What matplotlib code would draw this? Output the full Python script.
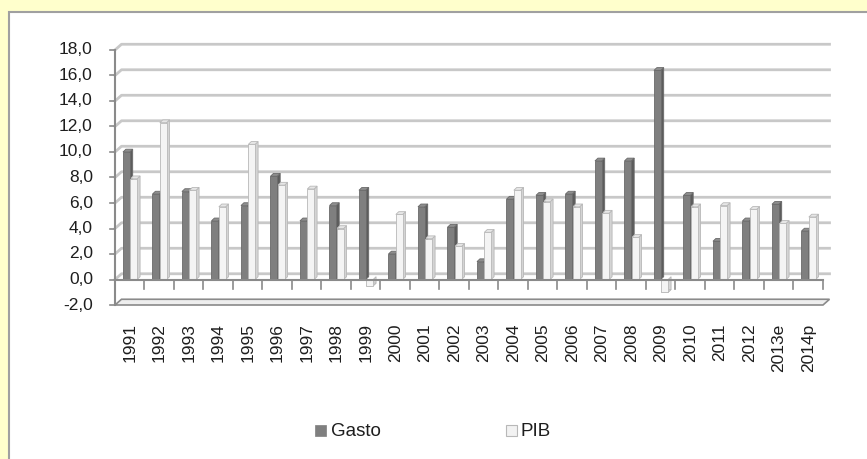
import numpy as np
import matplotlib.pyplot as plt
from matplotlib.patches import Rectangle, Polygon

# dados (variação anual, %)
anos = ['1991', '1992', '1993', '1994', '1995', '1996', '1997', '1998', '1999', '2000',
        '2001', '2002', '2003', '2004', '2005', '2006', '2007', '2008', '2009', '2010',
        '2011', '2012', '2013e', '2014p']
gasto = [10.0, 6.7, 6.9, 4.6, 5.8, 8.1, 4.6, 5.8, 7.0, 2.0,
         5.7, 4.1, 1.4, 6.3, 6.6, 6.7, 9.3, 9.3, 16.4, 6.6,
         3.0, 4.6, 5.9, 3.8]
pib = [7.9, 12.3, 7.0, 5.7, 10.6, 7.4, 7.1, 4.0, -0.5, 5.1,
       3.2, 2.6, 3.7, 7.0, 6.1, 5.7, 5.2, 3.3, -1.0, 5.7,
       5.8, 5.5, 4.4, 4.9]
yticks = np.arange(-2, 19, 2)

W, H = 867, 459
fig = plt.figure(figsize=(W / 100, H / 100), dpi=100)
fig.patch.set_facecolor('#FFFFCC')
fig.patches.append(Rectangle((9 / W, -0.1), 1.1, (H - 12) / H + 0.1, transform=fig.transFigure,
                             facecolor='white', edgecolor='#A0A0A0', lw=1.5, zorder=-5))

ax = fig.add_axes([115 / W, 154 / H, 708 / W, 255 / H])
ax.set_xlim(0, len(anos))
ax.set_ylim(-2, 18)
ax.axis('off')

n = len(anos)
dx, dy = 0.22, 0.45      # profundidade da parede
grid_c = '#C8C8C8'
axis_c = '#8A8A8A'
fs = 12.5
txt_c = '#1E1E1E'

# parede de fundo: linhas de grade
for v in yticks:
    if v < 0:
        continue
    ax.plot([0, dx, n + dx], [v, v + dy, v + dy], color=grid_c, lw=2, clip_on=False, zorder=1)

# piso em -2
floor = Polygon([[0, -2], [dx, -2 + dy], [n + dx, -2 + dy], [n, -2]], closed=True,
                facecolor='#EEEEEE', edgecolor=axis_c, lw=1.2, clip_on=False, zorder=1)
ax.add_patch(floor)

# eixo vertical e marcas
ax.plot([0, 0], [-2, 18], color=axis_c, lw=1.5, clip_on=False, zorder=2)
for v in yticks:
    ax.plot([-0.17, 0], [v, v], color=axis_c, lw=1.2, clip_on=False, zorder=2)
    ax.text(-0.75, v, f'{v:.1f}'.replace('.', ','), ha='right', va='center',
            fontsize=fs, family='Liberation Sans', color=txt_c)

# barras com efeito 3D
bw = 0.23
sx, sy = 0.1, 0.22


def bar3d(x0, val, front, side, top, edge):
    x1 = x0 + bw
    ax.add_patch(Polygon([[x1, 0], [x1 + sx, sy], [x1 + sx, val + sy], [x1, val]],
                         facecolor=side, edgecolor=edge, lw=0.6, zorder=3))
    ax.add_patch(Polygon([[x0, val], [x0 + sx, val + sy], [x1 + sx, val + sy], [x1, val]],
                         facecolor=top, edgecolor=edge, lw=0.6, zorder=3))
    ax.add_patch(Rectangle((x0, 0), bw, val, facecolor=front, edgecolor=edge, lw=0.6, zorder=4))


for i in range(n):
    bar3d(i + 0.27, gasto[i], '#7F7F7F', '#5C5C5C', '#8E8E8E', '#6A6A6A')
    bar3d(i + 0.52, pib[i], '#F4F4F4', '#D4D4D4', '#E6E6E6', '#B8B8B8')

# eixo de categorias em zero
ax.plot([0, n], [0, 0], color=axis_c, lw=1.5, clip_on=False, zorder=5)
for i in range(1, n + 1):
    ax.plot([i, i], [0, -0.75], color=axis_c, lw=1.2, clip_on=False, zorder=5)

for i, a in enumerate(anos):
    ax.text(i + 0.5, -3.45, a, rotation=90, ha='center', va='top', fontsize=fs,
            family='Liberation Sans', color=txt_c)

# legenda
fig.patches.append(Rectangle((315 / W, (H - 436) / H), 11 / W, 11 / H, transform=fig.transFigure,
                             facecolor='#7F7F7F', edgecolor='#7F7F7F', lw=0.5))
fig.text(331 / W, (H - 431) / H, 'Gasto', ha='left', va='center', fontsize=13.5,
         family='Liberation Sans', color=txt_c)
fig.patches.append(Rectangle((506 / W, (H - 436) / H), 11 / W, 11 / H, transform=fig.transFigure,
                             facecolor='#F2F2F2', edgecolor='#B8B8B8', lw=0.8))
fig.text(521 / W, (H - 431) / H, 'PIB', ha='left', va='center', fontsize=13.5,
         family='Liberation Sans', color=txt_c)

fig.savefig('out.png', dpi=100, facecolor=fig.get_facecolor())
